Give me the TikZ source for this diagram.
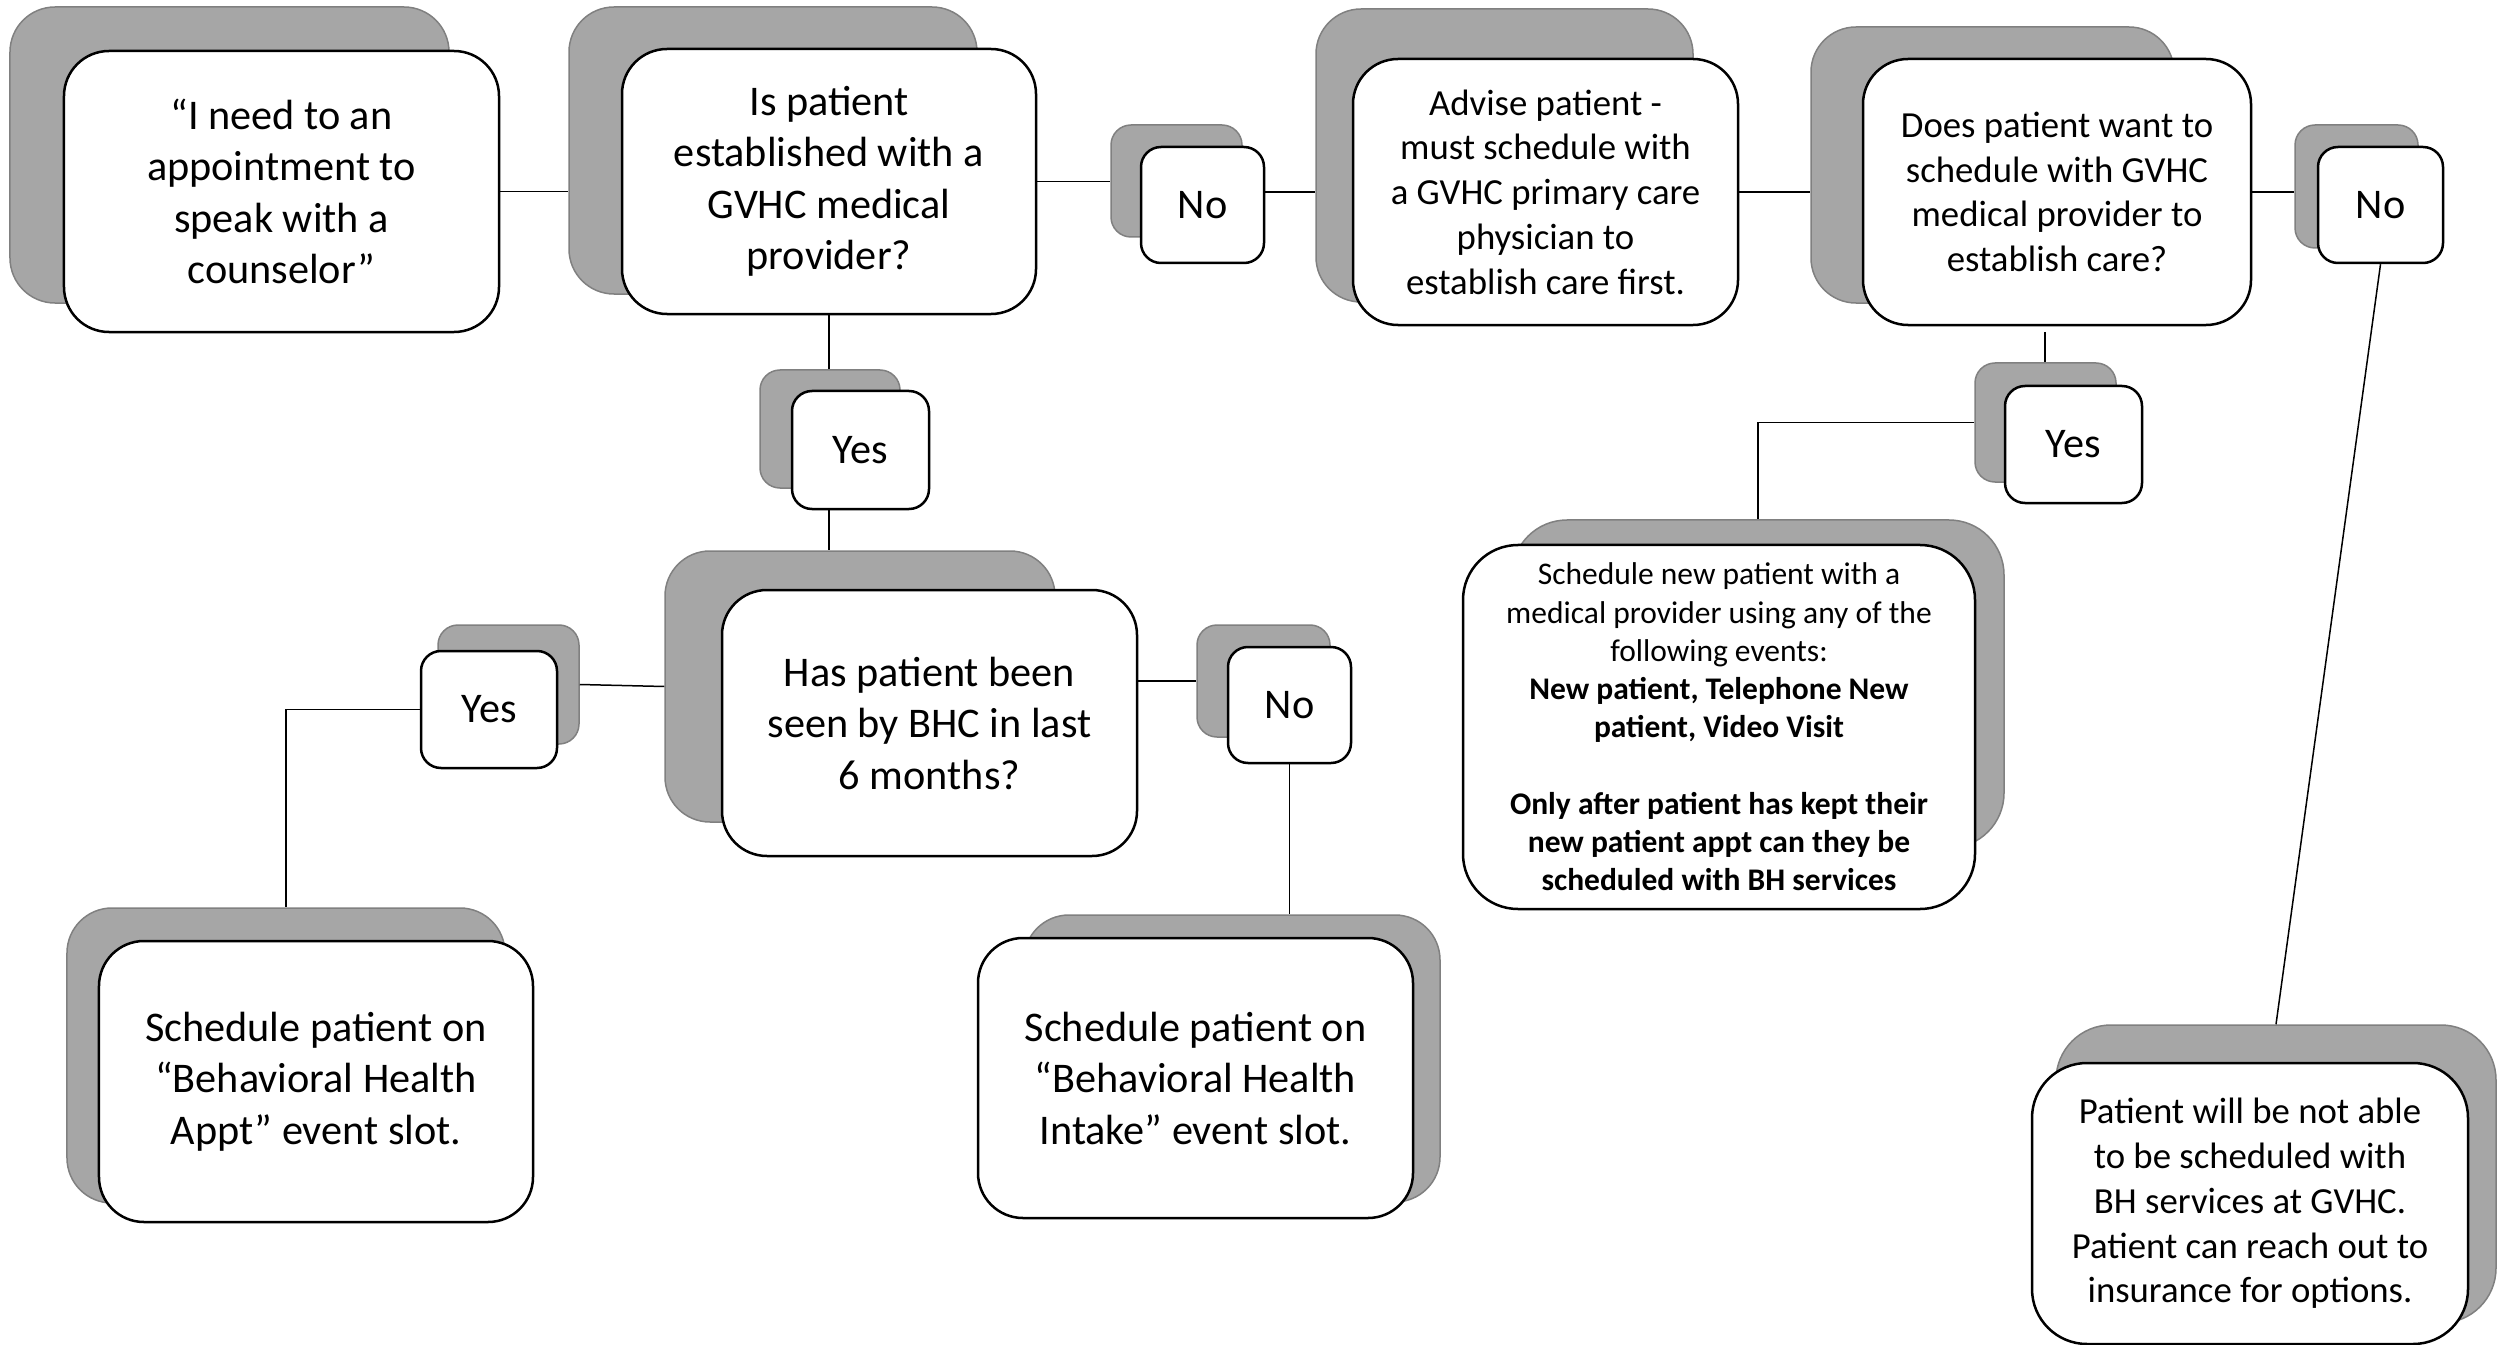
\documentclass[tikz,border=0pt]{standalone}
\usepackage{fontspec}
\setmainfont{Carlito}
\definecolor{shadowfill}{HTML}{A6A6A6}
\definecolor{shadowline}{HTML}{808080}
\tikzset{
  shd/.style={draw=shadowline, fill=shadowfill, line width=0.6pt, inner sep=0pt},
  wbox/.style={draw=black, fill=white, line width=1pt, align=center, inner sep=0pt},
  bigtxt/.style={font=\fontsize{16.9}{20.6}\selectfont},
  midtxt/.style={font=\fontsize{14.7}{17.9}\selectfont},
  smalltxt/.style={font=\fontsize{12.6}{15.3}\selectfont},
  rbig/.style={rounded corners=18pt},
  rlarge/.style={rounded corners=22pt},
  rsmall/.style={rounded corners=8pt},
  conn/.style={draw=black, line width=0.6pt}
}
\begin{document}
\begin{tikzpicture}[x=0.4pt, y=-0.4pt]
\useasboundingbox (0,0) rectangle (2499,1345);

% shadows
\node[shd, rbig, minimum width=175.6pt, minimum height=118.4pt] (s1) at (229.5,155) {};
\node[shd, rbig, minimum width=163.2pt, minimum height=114.8pt] (s2) at (773,150.5) {};
\node[shd, rsmall, minimum width=52.4pt, minimum height=44.8pt] (sN1) at (1176.5,181) {};
\node[shd, rbig, minimum width=150.8pt, minimum height=117.2pt] (s3) at (1504.5,155.5) {};
\node[shd, rbig, minimum width=145.2pt, minimum height=110.4pt] (s4) at (1992.5,165) {};
\node[shd, rsmall, minimum width=49.2pt, minimum height=49.2pt] (sN2) at (2356.5,186.5) {};
\node[shd, rsmall, minimum width=56pt, minimum height=47.2pt] (sY1) at (830,429) {};
\node[shd, rsmall, minimum width=56.4pt, minimum height=47.6pt] (sY2) at (2045.5,422.5) {};
\node[shd, rlarge, minimum width=196.8pt, minimum height=131.2pt] (s5) at (1758,684) {};
\node[shd, rbig, minimum width=156pt, minimum height=108.4pt] (s6) at (860,686.5) {};
\node[shd, rsmall, minimum width=56.4pt, minimum height=47.6pt] (sY3) at (508.5,684.5) {};
\node[shd, rsmall, minimum width=53.2pt, minimum height=44.8pt] (sN3) at (1263.5,681) {};
\node[shd, rbig, minimum width=175.2pt, minimum height=118pt] (s7) at (286,1055.5) {};
\node[shd, rbig, minimum width=166.4pt, minimum height=114.8pt] (s8) at (1232,1058.5) {};
\node[shd, rlarge, minimum width=176pt, minimum height=119.2pt] (s9) at (2276,1174) {};

% white boxes
\node[wbox, rbig, bigtxt, minimum width=174pt, minimum height=112.4pt] (b1) at (281.5,191.5)
  {“I need to an\\appointment to\\speak with a\\counselor”};
\node[wbox, rbig, bigtxt, minimum width=165.6pt, minimum height=106pt] (b2) at (829,181.5)
  {Is patient\\established with a\\GVHC medical\\provider?};
\node[wbox, rsmall, bigtxt, minimum width=49.2pt, minimum height=46.4pt] (N1) at (1202.5,205) {No};
\node[wbox, rbig, midtxt, minimum width=154pt, minimum height=106.4pt] (b3) at (1545.5,192)
  {Advise patient -\\must schedule with\\a GVHC primary care\\physician to\\establish care first.};
\node[wbox, rbig, midtxt, minimum width=155.2pt, minimum height=106.4pt] (b4) at (2057,192)
  {Does patient want to\\schedule with GVHC\\medical provider to\\establish care?};
\node[wbox, rsmall, bigtxt, minimum width=50pt, minimum height=46.4pt] (N2) at (2380.5,205) {No};
\node[wbox, rsmall, bigtxt, minimum width=54.8pt, minimum height=47.2pt] (Y1) at (860.5,450) {Yes};
\node[wbox, rsmall, bigtxt, minimum width=54.8pt, minimum height=46.8pt] (Y2) at (2073.5,444.5) {Yes};
\node[wbox, rlarge, smalltxt, minimum width=204.8pt, minimum height=145.6pt] (b5) at (1719,727)
  {Schedule new patient with a\\medical provider using any of the\\following events:\\
   \textbf{New patient, Telephone New}\\\textbf{patient, Video Visit}\\[15.3pt]
   \textbf{Only after patient has kept their}\\\textbf{new patient appt can they be}\\\textbf{scheduled with BH services}};
\node[wbox, rbig, bigtxt, minimum width=166pt, minimum height=106.4pt] (b6) at (929.5,723)
  {Has patient been\\seen by BHC in last\\6 months?};
\node[wbox, rsmall, bigtxt, minimum width=54.4pt, minimum height=46.8pt] (Y3) at (489,709.5) {Yes};
\node[wbox, rsmall, bigtxt, minimum width=49.2pt, minimum height=46.4pt] (N3) at (1289.5,705) {No};
\node[wbox, rbig, bigtxt, minimum width=173.6pt, minimum height=112.4pt] (b7) at (316,1081.5)
  {Schedule patient on\\“Behavioral Health\\Appt” event slot.};
\node[wbox, rbig, bigtxt, minimum width=174pt, minimum height=112pt] (b8) at (1195.5,1078)
  {Schedule patient on\\“Behavioral Health\\Intake” event slot.};
\node[wbox, rlarge, midtxt, minimum width=174.4pt, minimum height=112.4pt] (b9) at (2250,1203.5)
  {Patient will be not able\\to be scheduled with\\BH services at GVHC.\\Patient can reach out to\\insurance for options.};

% connectors
\coordinate (d4) at (2045,332);
\draw[conn] (b1.east) -- (b1.east -| s2.west);
\draw[conn] (b2.east) -- (b2.east -| sN1.west);
\draw[conn] (b3.west -| N1.east) -- (b3.west -| s3.west);
\draw[conn] (b3.east) -- (b3.east -| s4.west);
\draw[conn] (b4.east) -- (b4.east -| sN2.west);
\draw[conn] (N2.south) -- (s9.north);
\draw[conn] (b2.south) -- (b2.south |- sY1.north);
\draw[conn] (b2.south |- Y1.south) -- (b2.south |- s6.north);
\draw[conn] (s6.west) -- (sY3.east);
\draw[conn] (Y3.west) -| (s7.north);
\draw[conn] (b6.east |- sN3.west) -- (sN3.west);
\draw[conn] (N3.south) -- (N3.south |- s8.north);
\draw[conn] (d4) -- (d4 |- sY2.north);
\draw[conn] (sY2.west) -| (s5.north);
\end{tikzpicture}
\end{document}
